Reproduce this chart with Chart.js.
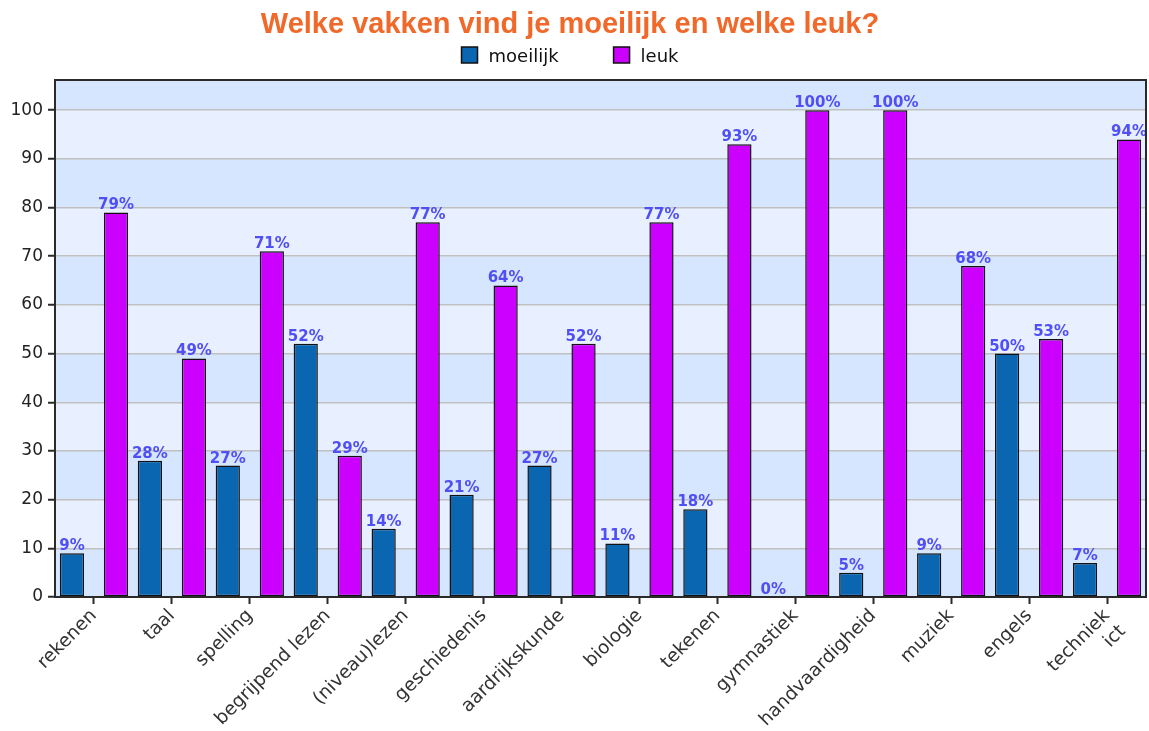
<!DOCTYPE html>
<html>
<head>
<meta charset="utf-8">
<script src="https://cdn.jsdelivr.net/npm/chart.js@4.4.0/dist/chart.umd.min.js"></script>
<style>
    html, body { margin: 0; padding: 0; background: #fff; }
    #wrap { width: 1149px; height: 731px; }
</style>
</head>
<body>
<div id="wrap"><canvas id="vakkenChart"></canvas></div>
<script>
// ============================================
// Data
// ============================================
const vakken = [
    "rekenen", "taal", "spelling", "begrijpend lezen", "(niveau)lezen",
    "geschiedenis", "aardrijkskunde", "biologie", "tekenen", "gymnastiek",
    "handvaardigheid", "muziek", "engels", ["techniek", "ict"],
];
const moeilijk = [9, 28, 27, 52, 14, 21, 27, 11, 18, 0, 5, 9, 50, 7];
const leuk = [79, 49, 71, 29, 77, 64, 52, 77, 93, 100, 100, 68, 53, 94];
const yTicks = [0, 10, 20, 30, 40, 50, 60, 70, 80, 90, 100];
const seriesNames = ["moeilijk", "leuk"];
const titel = "Welke vakken vind je moeilijk en welke leuk?";

const kleurBlauw = "#0a66b0";
const kleurPaars = "#cc00ff";

// ============================================
// Plugins: banden, kader, waardelabels, titel + legenda
// ============================================
const bandPlugin = {
    id: "bands",
    beforeDraw(chart) {
        const { ctx, chartArea: a, scales: { y } } = chart;
        ctx.save();
        for (let v = 0; v < y.max; v += 10) {
            const top = y.getPixelForValue(Math.min(v + 10, y.max));
            const bottom = y.getPixelForValue(v);
            ctx.fillStyle = (v / 10) % 2 === 0 ? "#d7e6ff" : "#e8f0ff";
            ctx.fillRect(a.left, top, a.right - a.left, bottom - top);
        }
        ctx.restore();
    },
};

const valuePlugin = {
    id: "values",
    afterDatasetsDraw(chart) {
        const { ctx, chartArea: a } = chart;
        ctx.save();
        ctx.beginPath();
        ctx.rect(a.left, 0, a.right - a.left, a.bottom);
        ctx.clip();
        ctx.font = "bold 15px 'DejaVu Sans'";
        ctx.fillStyle = "#4f4ff5";
        ctx.textAlign = "center";
        ctx.textBaseline = "alphabetic";
        chart.data.datasets.forEach((ds, i) => {
            chart.getDatasetMeta(i).data.forEach((bar, j) => {
                ctx.fillText(ds.data[j] + "%", bar.x, bar.y - 3);
            });
        });
        ctx.restore();

        // kader rond plotgebied
        ctx.save();
        ctx.strokeStyle = "#2a2a2a";
        ctx.lineWidth = 2;
        ctx.strokeRect(a.left, a.top, a.right - a.left, a.bottom - a.top);
        ctx.restore();
    },
};

const headerPlugin = {
    id: "header",
    afterDraw(chart) {
        const { ctx } = chart;
        const cx = 570;
        ctx.save();
        ctx.font = "bold 29px 'Liberation Sans'";
        ctx.fillStyle = "#f0692a";
        ctx.textAlign = "center";
        ctx.textBaseline = "alphabetic";
        ctx.fillText(titel, cx, 33);

        // legenda
        ctx.font = "18px 'DejaVu Sans'";
        ctx.textAlign = "left";
        const colors = [kleurBlauw, kleurPaars];
        const widths = seriesNames.map((n) => ctx.measureText(n).width);
        const total = widths.reduce((s, w) => s + 16 + 11 + w, 0) + 55;
        let x = cx - total / 2;
        seriesNames.forEach((name, i) => {
            ctx.fillStyle = colors[i];
            ctx.fillRect(x, 47, 16, 16);
            ctx.strokeStyle = "#111";
            ctx.lineWidth = 1.5;
            ctx.strokeRect(x, 47, 16, 16);
            ctx.fillStyle = "#111";
            ctx.fillText(name, x + 27, 62);
            x += 16 + 11 + widths[i] + 55;
        });
        ctx.restore();
    },
};

// ============================================
// Chart
// ============================================
new Chart(document.getElementById("vakkenChart").getContext("2d"), {
    type: "bar",
    data: {
        labels: vakken,
        datasets: [
            {
                label: seriesNames[0],
                data: moeilijk,
                backgroundColor: kleurBlauw,
                borderColor: "#111",
                borderWidth: 1.5,
                borderSkipped: false,
            },
            {
                label: seriesNames[1],
                data: leuk,
                backgroundColor: kleurPaars,
                borderColor: "#111",
                borderWidth: 1.5,
                borderSkipped: false,
            },
        ],
    },
    options: {
        responsive: true,
        maintainAspectRatio: false,
        animation: false,
        categoryPercentage: 1.13,
        barPercentage: 0.55,
        layout: { padding: { top: 80, right: 3, left: 0, bottom: 0 } },
        plugins: {
            legend: { display: false },
            title: { display: false },
            tooltip: { enabled: false },
        },
        scales: {
            x: {
                grid: {
                    offset: false,
                    drawOnChartArea: false,
                    drawTicks: true,
                    tickLength: 7,
                    tickColor: "#2a2a2a",
                    tickWidth: 2,
                },
                border: { display: false },
                ticks: {
                    color: "#333",
                    font: { family: "'DejaVu Sans'", size: 18.5 },
                    minRotation: 45,
                    maxRotation: 45,
                    autoSkip: false,
                    padding: 1,
                },
                afterFit(scale) {
                    scale.height = 134;
                },
            },
            y: {
                min: 0,
                max: 106.2,
                afterBuildTicks(scale) {
                    scale.ticks = yTicks.map((v) => ({ value: v }));
                },
                grid: {
                    color: "#c0c0c0",
                    lineWidth: 1.5,
                    tickLength: 7,
                    tickColor: "#2a2a2a",
                    tickWidth: 2,
                },
                border: { display: false },
                ticks: {
                    color: "#222",
                    font: { family: "'DejaVu Sans'", size: 17 },
                    padding: 5,
                },
                afterFit(scale) {
                    scale.width = 55;
                },
            },
        },
    },
    plugins: [bandPlugin, valuePlugin, headerPlugin],
});
</script>
</body>
</html>
